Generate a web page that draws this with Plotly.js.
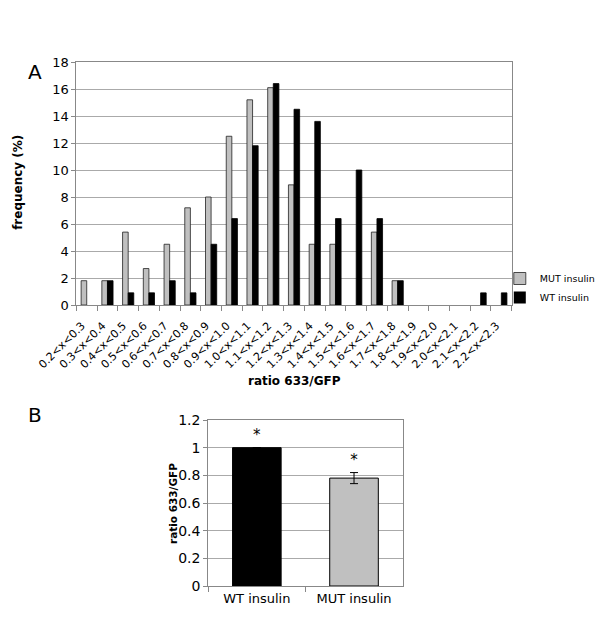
<!DOCTYPE html>
<html><head><meta charset="utf-8">
<script src="https://cdn.plot.ly/plotly-3.0.1.min.js"></script>
<style>body{margin:0;background:#fff}#c{width:600px;height:640px}</style>
</head><body><div id="c"></div>
<script>
const bins = ["0.2<x<0.3","0.3<x<0.4","0.4<x<0.5","0.5<x<0.6","0.6<x<0.7","0.7<x<0.8","0.8<x<0.9","0.9<x<1.0","1.0<x<1.1","1.1<x<1.2","1.2<x<1.3","1.3<x<1.4","1.4<x<1.5","1.5<x<1.6","1.6<x<1.7","1.7<x<1.8","1.8<x<1.9","1.9<x<2.0","2.0<x<2.1","2.1<x<2.2","2.2<x<2.3"];
const mutFreq = [1.8,1.8,5.4,2.7,4.5,7.2,8.0,12.5,15.2,16.1,8.9,4.5,4.5,0,5.4,1.8,0,0,0,0,0];
const wtFreq  = [0,1.8,0.9,0.9,1.8,0.9,4.5,6.4,11.8,16.4,14.5,13.6,6.4,10.0,6.4,1.8,0,0,0,0.9,0.9];
const groups = ["WT insulin","MUT insulin"];
const ratioMean = [1.0, 0.78];
const ratioErr = [0, 0.04];
const sigMarks = ["*","*"];

const F = "DejaVu Sans, Verdana, sans-serif";
const gray = "#c0c0c0";
const outline = vals => vals.map(v => v > 0 ? 0.8 : 0);

const traces = [
  {type:"bar", name:"MUT insulin", x:bins, y:mutFreq, xaxis:"x", yaxis:"y",
   marker:{color:gray, line:{color:"#222", width:outline(mutFreq)}}},
  {type:"bar", name:"WT insulin", x:bins, y:wtFreq, xaxis:"x", yaxis:"y",
   marker:{color:"#000", line:{color:"#000", width:outline(wtFreq)}}},
  {type:"bar", x:groups, y:ratioMean, xaxis:"x2", yaxis:"y2", showlegend:false, width:0.5,
   marker:{color:["#000", gray], line:{color:"#000", width:1}},
   error_y:{type:"data", array:ratioErr, visible:true, color:"#000", thickness:1, width:4}},
  {type:"scatter", mode:"text", x:groups, y:ratioMean.map((v,i)=>v+ratioErr[i]+0.08),
   text:sigMarks, textposition:"middle center", textfont:{family:F, size:15, color:"#000000"},
   xaxis:"x2", yaxis:"y2", showlegend:false, hoverinfo:"skip"}
];

const layout = {
  width:600, height:640, margin:{l:0,r:0,t:0,b:0},
  paper_bgcolor:"#fff", plot_bgcolor:"#fff",
  font:{family:F, size:13, color:"#000"},
  barmode:"group", bargap:0.46, bargroupgap:0,
  showlegend:true,
  legend:{x:504/600, y:1-264/640, xanchor:"left", yanchor:"top", font:{family:F, size:9.5},
          bgcolor:"rgba(0,0,0,0)", itemwidth:30, tracegroupgap:0, borderwidth:0},
  xaxis:{domain:[77/600,516/600], anchor:"y", type:"category", tickson:"boundaries",
         ticks:"outside", ticklen:5, tickcolor:"#888", tickangle:-45, ticklabelstandoff:9,
         ticklabelshift:-5,
         tickfont:{family:F, size:11}, showline:true, linecolor:"#888", mirror:true,
         showgrid:false, automargin:false},
  yaxis:{domain:[1-305/640,1-62/640], anchor:"x", range:[0,18], dtick:2,
         showgrid:true, gridcolor:"#aaa", gridwidth:1, showline:true, linecolor:"#888", mirror:true,
         ticks:"outside", ticklen:4, tickcolor:"#888", tickfont:{family:F, size:13},
         zeroline:false, automargin:false},
  xaxis2:{domain:[210/600,406/600], anchor:"y2", type:"category", tickson:"boundaries",
         ticks:"outside", ticklen:5, tickcolor:"#888", tickfont:{family:F, size:13},
         showline:true, linecolor:"#888", mirror:true, showgrid:false, automargin:false},
  yaxis2:{domain:[1-586/640,1-420/640], anchor:"x2", range:[0,1.2], dtick:0.2,
         showgrid:true, gridcolor:"#aaa", showline:true, linecolor:"#888", mirror:true,
         ticks:"outside", ticklen:4, tickcolor:"#888", tickfont:{family:F, size:14},
         zeroline:false, automargin:false},
  annotations:[
    {text:"A", xref:"paper", yref:"paper", x:35/600, y:1-72/640, showarrow:false,
     font:{family:F, size:20}, xanchor:"center", yanchor:"middle"},
    {text:"B", xref:"paper", yref:"paper", x:35/600, y:1-415/640, showarrow:false,
     font:{family:F, size:20}, xanchor:"center", yanchor:"middle"},
    {text:"<b>frequency (%)</b>", xref:"paper", yref:"paper", x:18/600, y:1-182/640,
     textangle:-90, showarrow:false, font:{family:F, size:12}, xanchor:"center", yanchor:"middle"},
    {text:"<b>ratio 633/GFP</b>", xref:"paper", yref:"paper", x:296.5/600, y:1-381/640,
     showarrow:false, font:{family:F, size:12}, xanchor:"center", yanchor:"middle"},
    {text:"<b>ratio 633/GFP</b>", xref:"paper", yref:"paper", x:174/600, y:1-503.5/640,
     textangle:-90, showarrow:false, font:{family:F, size:10.5}, xanchor:"center", yanchor:"middle"}
  ]
};

Plotly.newPlot("c", traces, layout, {staticPlot:true, displayModeBar:false});
</script>
</body></html>
